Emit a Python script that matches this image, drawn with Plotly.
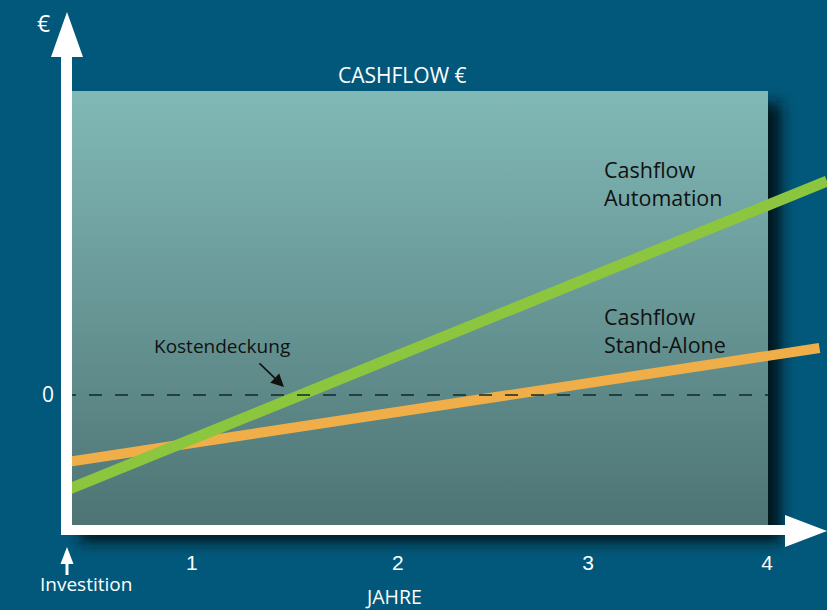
import base64
import plotly.graph_objects as go

# ---------------- data ----------------
years = [0.0, 4.343]                 # x positions of the two line ends (years)
automation = [-0.95, 2.14]          # Cashflow Automation (relative €)
years_sa = [0.0, 4.30]
stand_alone = [-0.67, 0.47]         # Cashflow Stand-Alone (relative €)
tick_pos = [0.714, 1.891, 2.977, 4.0]
tick_labels = ["1", "2", "3", "4"]
y_tick_pos = [0]
y_tick_labels = ["0"]

W, H = 827, 610
BG = "#02587a"
L, B = 67, 80          # margins -> plot area x 67..827, y 0..530
PW, PH = W - L, H - B

def px(x):
    return (x - L) / PW

def py(y):
    return (PH - y) / PH

# background panel (gradient + drop shadow) as an svg image
svg = f"""<svg xmlns="http://www.w3.org/2000/svg" width="{W}" height="{H}" viewBox="0 0 {W} {H}">
<defs>
<linearGradient id="p" x1="0" y1="0" x2="0" y2="1">
<stop offset="0" stop-color="#81b9b7"/><stop offset="1" stop-color="#4d7373"/>
</linearGradient>
<filter id="f" x="-0.2" y="-0.2" width="1.4" height="1.4"><feGaussianBlur stdDeviation="7"/></filter>
</defs>
<rect x="80" y="103" width="701" height="439" fill="#01121a" filter="url(#f)"/>
<rect x="67" y="91" width="701" height="439" fill="url(#p)"/>
</svg>"""
uri = "data:image/svg+xml;base64," + base64.b64encode(svg.encode()).decode()

shapes = []
# zero dashed line
shapes.append(dict(type="line", xref="paper", yref="y", layer="above",
                   x0=px(63), x1=px(768), y0=0, y1=0,
                   line=dict(color="#162626", width=1.6, dash="13px,13px")))
# y axis with arrow
shapes.append(dict(type="rect", xref="paper", yref="paper", layer="above",
                   x0=px(61), x1=px(72), y0=py(55), y1=py(535),
                   fillcolor="white", line_width=0))
shapes.append(dict(type="path", xref="paper", yref="paper", layer="above",
                   path="M %f,%f L %f,%f L %f,%f Z" % (px(51), py(57), px(83), py(57), px(67), py(12)),
                   fillcolor="white", line_width=0))
# x axis with arrow
shapes.append(dict(type="rect", xref="paper", yref="paper", layer="above",
                   x0=px(61), x1=px(787), y0=py(525), y1=py(535),
                   fillcolor="white", line_width=0))
shapes.append(dict(type="path", xref="paper", yref="paper", layer="above",
                   path="M %f,%f L %f,%f L %f,%f Z" % (px(785), py(515), px(785), py(547), px(827), py(531)),
                   fillcolor="white", line_width=0))
# small Investition arrow
shapes.append(dict(type="rect", xref="paper", yref="paper", layer="above",
                   x0=px(65.5), x1=px(68.5), y0=py(562), y1=py(575),
                   fillcolor="white", line_width=0))
shapes.append(dict(type="path", xref="paper", yref="paper", layer="above",
                   path="M %f,%f L %f,%f L %f,%f Z" % (px(60.5), py(564), px(73.5), py(564), px(67), py(547)),
                   fillcolor="white", line_width=0))

FONT = "Open Sans"
ann = []
def text(t, x, y, size, color, xanchor="center", yanchor="middle", align="center"):
    ann.append(dict(text=t, x=px(x), y=py(y), xref="paper", yref="paper",
                    showarrow=False, xanchor=xanchor, yanchor=yanchor, align=align,
                    borderpad=0, font=dict(family=FONT, size=size, color=color)))

text("€", 43, 23, 23, "white")
text("CASHFLOW €", 402, 75, 21, "white")
text("Kostendeckung", 222, 346, 19, "#111111")
text("Cashflow<br>Automation", 603, 183, 21.5, "#111111", xanchor="left", align="left")
text("Cashflow<br>Stand-Alone", 603, 330, 21.5, "#111111", xanchor="left", align="left")
text("Investition", 86, 584, 19, "white")
text("JAHRE", 393, 596, 19.5, "white")
ann.append(dict(x=px(284), y=py(387), xref="paper", yref="paper", ax=-26, ay=-25,
                showarrow=True, arrowhead=2, arrowsize=1.6, arrowwidth=1.6,
                arrowcolor="#111111", text=""))

fig = go.Figure()
fig.add_trace(go.Scatter(x=years_sa, y=stand_alone, mode="lines",
                         line=dict(color="#f0ae48", width=10), hoverinfo="skip"))
fig.add_trace(go.Scatter(x=years, y=automation, mode="lines",
                         line=dict(color="#8cc63e", width=11), hoverinfo="skip"))

fig.update_layout(
    width=W, height=H, margin=dict(l=L, r=0, t=0, b=B),
    paper_bgcolor=BG, plot_bgcolor="rgba(0,0,0,0)", showlegend=False,
    shapes=shapes, annotations=ann,
    images=[dict(source=uri, xref="paper", yref="paper", x=px(0), y=py(0),
                 sizex=W / PW, sizey=H / PH, xanchor="left", yanchor="top",
                 sizing="stretch", layer="below")],
    xaxis=dict(range=[0, PW / 175], showgrid=False, zeroline=False, showline=False,
               tickvals=tick_pos, ticktext=tick_labels, ticks="", ticklabelstandoff=18,
               tickfont=dict(family="Liberation Sans", size=21, color="white"),
               fixedrange=True),
    yaxis=dict(range=[(395 - 530) / 100, 395 / 100], showgrid=False, zeroline=False,
               showline=False, tickvals=y_tick_pos, ticktext=y_tick_labels, ticks="",
               ticklabelstandoff=12,
               tickfont=dict(family=FONT, size=21, color="white"), fixedrange=True),
)

fig.write_html("out.html", config={"displayModeBar": False},
               post_script="document.body.style.margin='0';document.body.style.overflow='hidden';")
